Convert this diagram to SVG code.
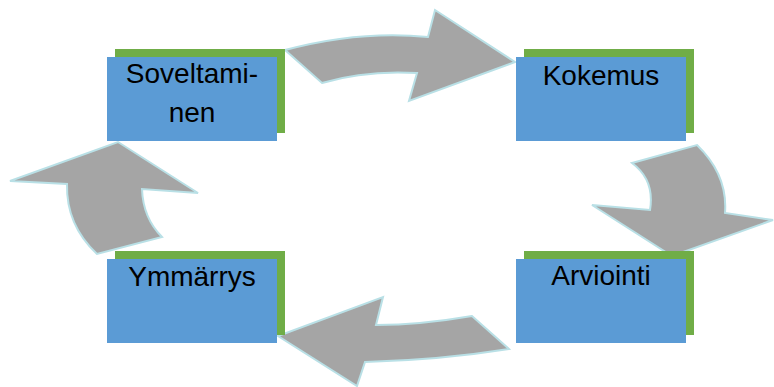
<svg xmlns="http://www.w3.org/2000/svg" width="774" height="387" viewBox="0 0 774 387">
<style>
.arrow{fill:#a5a5a5;stroke:#b9e0e6;stroke-width:2;stroke-linejoin:miter}
.shadow{fill:#70ad47}
.box{fill:#5b9bd5}
.lbl{font-family:"Liberation Sans",Arial,sans-serif;font-size:28px;fill:#000;text-anchor:middle}
</style>
<rect width="774" height="387" fill="#fff"/>
<g id="connectors">
<path class="arrow" d="M285,50 Q360,30 428,37 L435,10 L515,62 L409,101 L417,73 Q365,70 322,83 Z"/>
<path class="arrow" d="M632,163 L697,145 Q728,175 725,213 L773,220 L672,256 L592,205 L650,210 Q655,180 632,163 Z"/>
<path class="arrow" d="M509,349 Q440,360 365,362 L357,386 L278,336 L383,297 L376,325 Q420,325 472,316 Z"/>
<path class="arrow" d="M97,254 Q66,225 67,184 L10,181 L118,142 L198,193 L142,189 Q143,218 162,237 Z"/>
</g>
<g id="soveltaminen">
<rect class="shadow" x="115" y="49" width="170" height="84"/>
<rect class="box" x="107" y="57" width="170" height="84"/>
<text class="lbl" x="192" y="83">Soveltami-</text>
<text class="lbl" x="192" y="122">nen</text>
</g>
<g id="kokemus">
<rect class="shadow" x="524" y="49" width="170" height="84"/>
<rect class="box" x="516" y="57" width="170" height="84"/>
<text class="lbl" x="601" y="85">Kokemus</text>
</g>
<g id="ymmarrys">
<rect class="shadow" x="115" y="251" width="170" height="84"/>
<rect class="box" x="107" y="259" width="170" height="84"/>
<text class="lbl" x="192" y="286">Ymmärrys</text>
</g>
<g id="arviointi">
<rect class="shadow" x="524" y="251" width="170" height="84"/>
<rect class="box" x="516" y="259" width="170" height="84"/>
<text class="lbl" x="601" y="285">Arviointi</text>
</g>
</svg>
